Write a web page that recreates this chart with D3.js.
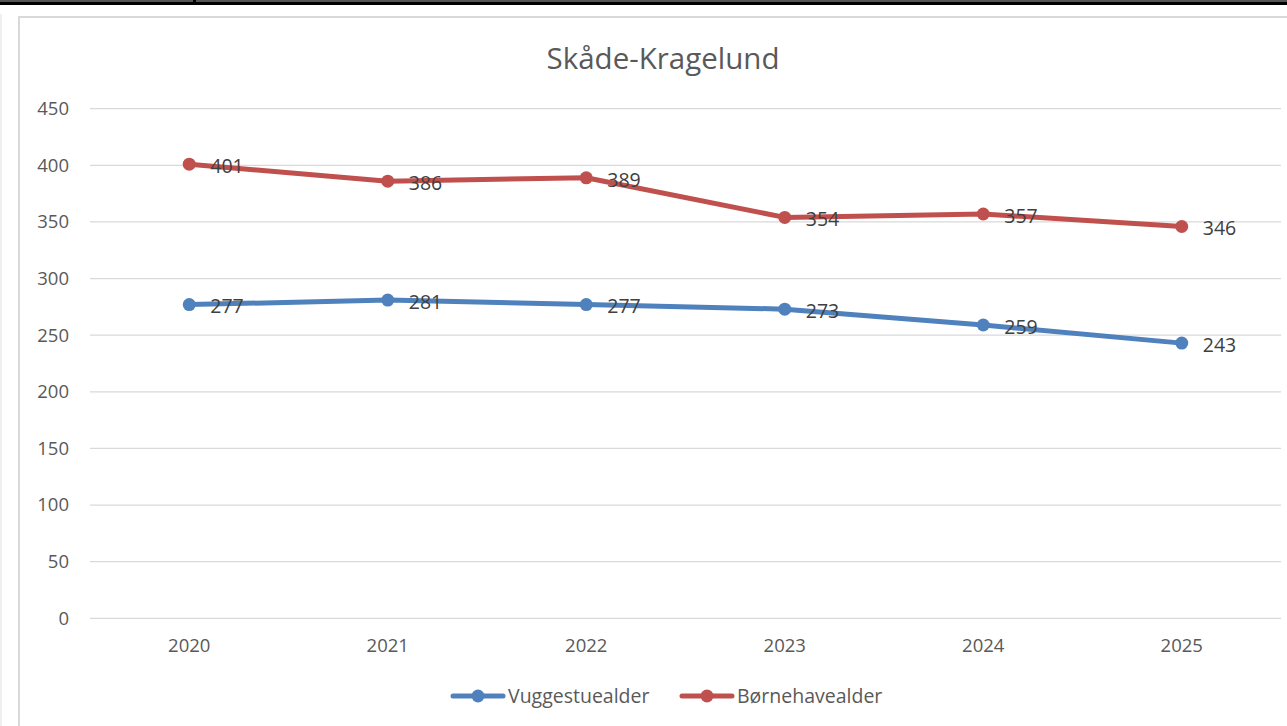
<!DOCTYPE html>
<html>
<head>
<meta charset="utf-8">
<script src="https://cdn.jsdelivr.net/npm/d3@7"></script>
<style>
  html, body { margin: 0; padding: 0; background: #fff; }
  svg { display: block; }
</style>
</head>
<body>
<svg id="chart" width="1287" height="726"></svg>
<script>
// Chart data
const years = ["2020", "2021", "2022", "2023", "2024", "2025"];
const vuggestue = [277, 281, 277, 273, 259, 243];
const boernehave = [401, 386, 389, 354, 357, 346];
const seriesNames = ["Vuggestuealder", "Børnehavealder"];
const yTicks = [0, 50, 100, 150, 200, 250, 300, 350, 400, 450];
const titleText = "Skåde-Kragelund";

const colors = ["#4F81BD", "#C0504D"];
const font = "'Open Sans', 'Noto Sans', sans-serif";

const svg = d3.select("#chart");
const W = 1287, H = 726;

// Window frame at the top and chart area border
svg.append("rect").attr("x", 0).attr("y", 0).attr("width", W).attr("height", 2).attr("fill", "#555");
svg.append("rect").attr("x", 0).attr("y", 2).attr("width", W).attr("height", 3).attr("fill", "#000");
svg.append("rect").attr("x", 193).attr("y", 0).attr("width", 3).attr("height", 2).attr("fill", "#000");
svg.append("rect").attr("x", 0).attr("y", 14).attr("width", 2).attr("height", H - 14).attr("fill", "#efefef");
svg.append("rect").attr("x", 18).attr("y", 16).attr("width", W - 18).attr("height", 2).attr("fill", "#d9d9d9");
svg.append("rect").attr("x", 18).attr("y", 16).attr("width", 2).attr("height", H - 16).attr("fill", "#d9d9d9");

// Scales
const plotLeft = 90, plotRight = 1281;
const x = d3.scaleBand().domain(years).range([plotLeft, plotRight]);
const y = d3.scaleLinear().domain([0, 450]).range([618.3, 108.7]);
const cx = d => x(d) + x.bandwidth() / 2;

// Gridlines
svg.append("g")
  .selectAll("line")
  .data(yTicks)
  .join("line")
  .attr("x1", plotLeft).attr("x2", plotRight)
  .attr("y1", d => y(d)).attr("y2", d => y(d))
  .attr("stroke", "#d9d9d9").attr("stroke-width", 1.3);

// Y axis labels
const yAxis = d3.axisLeft(y).tickValues(yTicks).tickSize(0).tickPadding(0);
const yg = svg.append("g").attr("transform", `translate(69,0)`).call(yAxis);
yg.select(".domain").remove();
yg.selectAll("text")
  .attr("font-family", font).attr("font-size", 18.5).attr("fill", "#595959");

// X axis labels
const xAxis = d3.axisBottom(x).tickSize(0).tickPadding(0);
const xg = svg.append("g").attr("transform", `translate(0,639)`).call(xAxis);
xg.select(".domain").remove();
xg.selectAll("text")
  .attr("font-family", font).attr("font-size", 18.5).attr("fill", "#595959");

// Title
svg.append("text")
  .attr("x", 663).attr("y", 69)
  .attr("text-anchor", "middle")
  .attr("font-family", font).attr("font-size", 29.5)
  .attr("fill", "#595959")
  .text(titleText);

// Lines, markers, value labels
const allSeries = [vuggestue, boernehave];
const line = d3.line().x((d, i) => cx(years[i])).y(d => y(d));

allSeries.forEach((vals, s) => {
  const g = svg.append("g");
  g.append("path")
    .datum(vals)
    .attr("d", line)
    .attr("fill", "none")
    .attr("stroke", colors[s])
    .attr("stroke-width", 5)
    .attr("stroke-linejoin", "round")
    .attr("stroke-linecap", "round");
  g.selectAll("circle")
    .data(vals)
    .join("circle")
    .attr("cx", (d, i) => cx(years[i]))
    .attr("cy", d => y(d))
    .attr("r", 6.5)
    .attr("fill", colors[s]);
});

allSeries.forEach((vals, s) => {
  svg.append("g")
    .selectAll("text")
    .data(vals)
    .join("text")
    .attr("x", (d, i) => cx(years[i]) + 21)
    .attr("y", d => y(d) + 2)
    .attr("dy", "0.35em")
    .attr("font-family", font).attr("font-size", 19.5)
    .attr("fill", "#404040")
    .text(d => d);
});

// Legend
const legendItems = [
  { name: seriesNames[0], color: colors[0], x0: 453 },
  { name: seriesNames[1], color: colors[1], x0: 682 }
];
const lg = svg.append("g");
legendItems.forEach(it => {
  lg.append("line")
    .attr("x1", it.x0).attr("x2", it.x0 + 50)
    .attr("y1", 696).attr("y2", 696)
    .attr("stroke", it.color).attr("stroke-width", 5).attr("stroke-linecap", "round");
  lg.append("circle")
    .attr("cx", it.x0 + 25).attr("cy", 696).attr("r", 6.5).attr("fill", it.color);
  lg.append("text")
    .attr("x", it.x0 + 55).attr("y", 696).attr("dy", "0.35em")
    .attr("font-family", font).attr("font-size", 19.5)
    .attr("fill", "#595959")
    .text(it.name);
});
</script>
</body>
</html>
